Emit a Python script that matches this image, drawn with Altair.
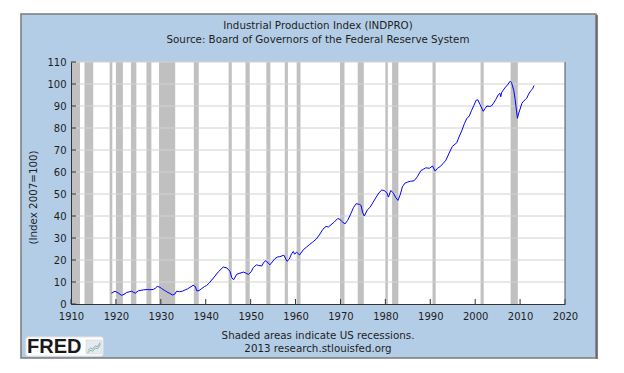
import altair as alt
import pandas as pd

# ---------------- data ----------------
ip_year = [
    1919.0, 1919.8, 1920.5, 1921.3, 1921.8, 1922.4, 1923.5, 1924.3, 1925.0, 1926.1,
    1927.0, 1927.6, 1928.3, 1928.8, 1929.2, 1929.8, 1930.2, 1930.8, 1931.3, 1932.0,
    1932.6, 1933.1, 1933.5, 1934.2, 1934.8, 1935.4, 1936.0, 1936.5, 1937.2, 1937.7,
    1938.0, 1938.5, 1939.1, 1939.7, 1940.2, 1940.8, 1941.7, 1942.8, 1943.9, 1944.7,
    1945.4, 1945.8, 1946.2, 1946.9, 1947.6, 1948.4, 1949.0, 1949.5, 1950.1, 1950.6,
    1951.3, 1951.8, 1952.5, 1952.9, 1953.4, 1953.9, 1954.3, 1955.4, 1956.0, 1956.5,
    1957.4, 1958.1, 1958.6, 1959.1, 1959.5, 1959.8, 1960.2, 1960.9, 1961.7, 1962.4,
    1963.1, 1963.8, 1964.6, 1965.3, 1966.1, 1966.8, 1967.3, 1967.9, 1968.6, 1969.4,
    1969.9, 1970.5, 1971.0, 1971.6, 1972.3, 1972.9, 1973.5, 1974.2, 1974.6, 1974.9,
    1975.3, 1976.0, 1976.6, 1977.2, 1977.9, 1978.6, 1979.2, 1979.7, 1980.3, 1980.7,
    1981.2, 1981.8, 1982.3, 1982.8, 1983.3, 1983.8, 1984.4, 1984.9, 1985.6, 1986.4,
    1987.1, 1987.9, 1988.5, 1989.0, 1989.8, 1990.5, 1991.1, 1991.6, 1992.3, 1992.9,
    1993.5, 1994.2, 1994.9, 1995.5, 1995.9, 1996.4, 1997.0, 1997.6, 1998.1, 1998.7,
    1999.2, 1999.7, 2000.2, 2000.6, 2001.1, 2001.8, 2002.2, 2002.6, 2003.2, 2003.6,
    2004.0, 2004.6, 2005.1, 2005.5, 2005.7, 2005.9, 2006.6, 2007.2, 2007.8, 2008.1,
    2008.6, 2008.9, 2009.4, 2009.7, 2010.0, 2010.4, 2010.7, 2011.2, 2011.5, 2011.9,
    2012.4, 2012.8, 2013.1,
]
ip_value = [
    4.9, 5.8, 5.0, 3.9, 4.4, 5.2, 5.8, 4.9, 6.0, 6.4,
    6.6, 6.5, 6.6, 7.2, 8.0, 7.6, 7.0, 6.2, 5.6, 4.8,
    4.1, 4.4, 5.8, 5.6, 5.8, 6.4, 6.9, 7.6, 8.5, 7.9,
    6.0, 6.1, 7.0, 7.9, 8.4, 9.6, 11.8, 14.6, 16.8, 16.4,
    14.9, 12.0, 11.0, 13.5, 14.0, 14.5, 14.0, 13.4, 14.6, 16.6,
    17.8, 17.5, 17.3, 18.9, 19.7, 18.6, 17.8, 20.6, 21.4, 21.5,
    22.2, 19.4, 20.4, 22.8, 23.9, 22.6, 23.6, 22.3, 24.6, 25.8,
    27.0, 28.1, 29.5, 31.4, 34.0, 35.3, 35.0, 36.0, 37.2, 38.9,
    38.4, 37.2, 36.4, 38.0, 41.0, 43.8, 45.6, 45.3, 44.8, 41.8,
    40.0, 42.8, 44.0, 46.0, 48.4, 50.6, 51.8, 51.6, 50.6, 48.6,
    51.6, 50.4, 48.4, 47.1, 49.6, 53.3, 55.0, 55.4, 55.8, 56.0,
    57.8, 60.6, 61.3, 61.9, 61.7, 62.7, 60.4, 61.7, 62.6, 64.0,
    65.4, 68.6, 71.6, 72.6, 73.3, 75.9, 78.7, 82.0, 84.2, 85.5,
    88.0, 90.2, 92.6, 92.8, 90.6, 87.6, 88.8, 90.0, 89.8, 90.0,
    91.0, 93.0, 95.0, 95.8, 94.2, 96.2, 98.2, 99.6, 101.3, 100.6,
    97.0, 93.0, 84.4, 86.8, 88.6, 91.2, 92.0, 93.0, 93.6, 95.4,
    97.0, 97.8, 99.3,
]

rec_start = [1910.0, 1913.0, 1918.6, 1920.0, 1923.35, 1926.8, 1929.6, 1937.35,
             1945.1, 1948.85, 1953.5, 1957.6, 1960.25, 1969.9, 1973.85, 1980.0,
             1981.5, 1990.5, 2001.2, 2007.9]
rec_end = [1912.0, 1914.95, 1919.2, 1921.55, 1924.55, 1927.9, 1933.2, 1938.45,
           1945.8, 1949.8, 1954.4, 1958.3, 1961.1, 1970.9, 1975.2, 1980.55,
           1982.9, 1991.2, 2001.9, 2009.5]

x_ticks = [1910, 1920, 1930, 1940, 1950, 1960, 1970, 1980, 1990, 2000, 2010, 2020]
y_ticks = [0, 10, 20, 30, 40, 50, 60, 70, 80, 90, 100, 110]

title_1 = "Industrial Production Index (INDPRO)"
title_2 = "Source: Board of Governors of the Federal Reserve System"
y_title = "(Index 2007=100)"
note_1 = "Shaded areas indicate US recessions."
note_2 = "2013 research.stlouisfed.org"

# ---------------- styling ----------------
W, H = 494, 242
BLUE = "#B4CDE6"
FONT = "DejaVu Sans"
TXT = "#1e1e1e"

line_df = pd.DataFrame({"year": ip_year[:len(ip_value)], "value": ip_value[:len(ip_year)]})
rec_df = pd.DataFrame({"start": rec_start, "end": rec_end})
xt_df = pd.DataFrame({"v": x_ticks})
yt_df = pd.DataFrame({"v": y_ticks})
one = pd.DataFrame({"k": [0]})

xs = alt.Scale(domain=[1910, 2020], nice=False, zero=False)
ys = alt.Scale(domain=[0, 110], nice=False, zero=True)

x_axis = alt.Axis(values=x_ticks, format="d", title=None, grid=False, ticks=False,
                  tickSize=0, labelPadding=7, labelFont=FONT, labelFontSize=10,
                  labelColor=TXT, domainColor="#333333", domainWidth=1,
                  labelFlush=False, labelOverlap=False, zindex=1)
y_axis = alt.Axis(values=y_ticks, title=None, grid=False, ticks=False,
                  tickSize=0, labelPadding=5, labelFont=FONT, labelFontSize=10,
                  labelColor=TXT, domainColor="#333333", domainWidth=1,
                  labelFlush=False, labelOverlap=False, zindex=1)

frame = alt.Chart(one).mark_rect(fill=BLUE, stroke="#7a7a7a", strokeWidth=1.5).encode(
    x=alt.value(-50), x2=alt.value(525), y=alt.value(-48), y2=alt.value(296))
shadow = alt.Chart(one).mark_rule(color="#5a5a5a", strokeWidth=1.5).encode(
    x=alt.value(526), x2=alt.value(526), y=alt.value(-47), y2=alt.value(297))
plot_bg = alt.Chart(one).mark_rect(fill="white").encode(
    x=alt.value(0), x2=alt.value(W), y=alt.value(0), y2=alt.value(H))

recess = alt.Chart(rec_df).mark_rect(color="#C0C0C0").encode(
    x=alt.X("start:Q", scale=xs, axis=x_axis), x2="end:Q",
    y=alt.value(0), y2=alt.value(H))

grid = alt.Chart(yt_df).transform_filter("datum.v > 0").mark_rule(
    color="#D2D2D2", strokeWidth=1).encode(
    y=alt.Y("v:Q", scale=ys, axis=y_axis), x=alt.value(0), x2=alt.value(W))

line = alt.Chart(line_df).mark_line(color="#0000FF", strokeWidth=1).encode(
    x=alt.X("year:Q", scale=xs, axis=x_axis),
    y=alt.Y("value:Q", scale=ys, axis=y_axis))

yticks = alt.Chart(yt_df).mark_rule(color="#333333").encode(
    y=alt.Y("v:Q", scale=ys, axis=y_axis), x=alt.value(0), x2=alt.value(5))
xticks = alt.Chart(xt_df).mark_rule(color="#333333").encode(
    x=alt.X("v:Q", scale=xs, axis=x_axis), y=alt.value(H), y2=alt.value(H - 5))
right_edge = alt.Chart(one).mark_rule(color="#555555").encode(
    x=alt.value(W), y=alt.value(0), y2=alt.value(H))


def label(text, x, y, size=10.3, angle=0, align="center", font=FONT, weight="normal", color=TXT):
    return alt.Chart(one).mark_text(text=text, font=font, fontSize=size, angle=angle,
                                    align=align, baseline="alphabetic", fontWeight=weight,
                                    color=color).encode(x=alt.value(x), y=alt.value(y))


t1 = label(title_1, W / 2, -33.5)
t2 = label(title_2, W / 2, -19.5)
n1 = label(note_1, W / 2, 276.5)
n2 = label(note_2, W / 2, 290)
yt = label(y_title, -34, 135.5, angle=270)

logo_box = alt.Chart(one).mark_rect(fill="white", stroke="#e6e6e6", cornerRadius=2).encode(
    x=alt.value(-45), x2=alt.value(32), y=alt.value(275), y2=alt.value(294))
logo_txt = label("FRED", -44, 291, size=20, align="left", font="Liberation Sans",
                 weight="bold", color="#1a1a1a")
icon_bg = alt.Chart(one).mark_rect(fill="#e4eaee", stroke="#c8d0d6", strokeWidth=0.5).encode(
    x=alt.value(15), x2=alt.value(31), y=alt.value(278), y2=alt.value(292))
icon_g = alt.Chart(one).mark_point(
    shape="M-0.9,0.7L-0.5,0.3L-0.2,0.45L0.2,0.0L0.5,0.1L0.9,-0.5",
    filled=False, stroke="#5aa55a", strokeWidth=1, size=200).encode(
    x=alt.value(23), y=alt.value(286))
icon_b = alt.Chart(one).mark_point(
    shape="M-0.9,0.4L-0.5,0.0L-0.2,0.15L0.2,-0.3L0.5,-0.2L0.9,-0.8",
    filled=False, stroke="#6f8fc8", strokeWidth=1, size=200).encode(
    x=alt.value(23), y=alt.value(286))

chart = alt.layer(
    frame, shadow, plot_bg, recess, grid, line, yticks, xticks, right_edge,
    t1, t2, n1, n2, yt, logo_box, logo_txt, icon_bg, icon_g, icon_b,
).properties(
    width=W, height=H,
    padding={"left": 63, "top": 54, "right": 51, "bottom": 61},
    autosize=alt.AutoSizeParams(type="none"),
).configure(background="white").configure_view(stroke="transparent")

chart.save("out.html", embed_options={"renderer": "svg", "actions": False})
